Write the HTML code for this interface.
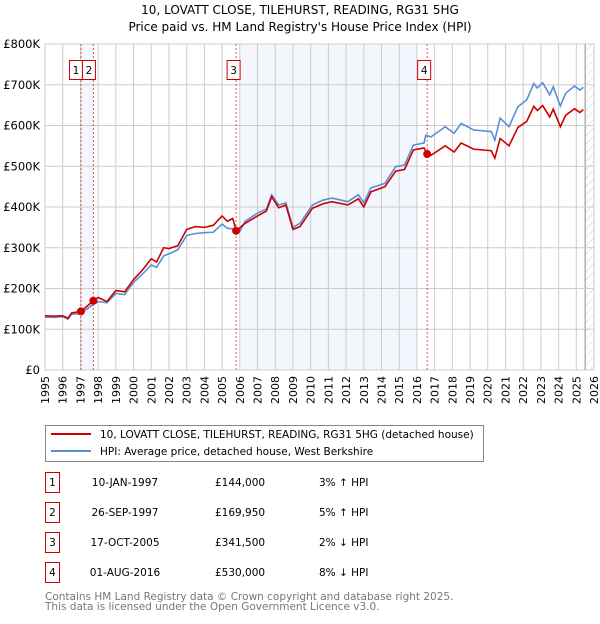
<!DOCTYPE html>
<html><head><meta charset="utf-8"><style>
body{margin:0;background:#fff;font-family:"DejaVu Sans","Liberation Sans",sans-serif;}
svg text{font-family:"DejaVu Sans","Liberation Sans",sans-serif;}
</style></head><body>
<svg id="c" width="600" height="620" xmlns="http://www.w3.org/2000/svg">
<defs><pattern id="hatch" width="6" height="6" patternUnits="userSpaceOnUse" patternTransform="rotate(45)"><line x1="0" y1="0" x2="0" y2="6" stroke="#ccc" stroke-width="1"/></pattern></defs>
<text x="300" y="14" text-anchor="middle" font-size="12">10, LOVATT CLOSE, TILEHURST, READING, RG31 5HG</text>
<text x="300" y="31" text-anchor="middle" font-size="12">Price paid vs. HM Land Registry's House Price Index (HPI)</text>
<g id="plot"></g>
<g>
<rect x="45.5" y="425.5" width="438" height="36" fill="#fff" stroke="#888"/>
<line x1="51" y1="434" x2="91" y2="434" stroke="#cc0000" stroke-width="2"/>
<text x="100" y="438" font-size="10.5">10, LOVATT CLOSE, TILEHURST, READING, RG31 5HG (detached house)</text>
<line x1="51" y1="451" x2="91" y2="451" stroke="#5b8fd4" stroke-width="2"/>
<text x="100" y="455" font-size="10.5">HPI: Average price, detached house, West Berkshire</text>
</g>
<g id="tbl" font-size="10.5"></g>
<text x="45" y="600" font-size="10.5" fill="#777">Contains HM Land Registry data © Crown copyright and database right 2025.</text>
<text x="45" y="610" font-size="10.5" fill="#777">This data is licensed under the Open Government Licence v3.0.</text>
</svg>
<script>
const hpiYears=[1995,1995.5,1996,1996.3,1996.5,1997,1997.7,1998,1998.5,1999,1999.5,2000,2000.5,2001,2001.3,2001.7,2002,2002.5,2003,2003.5,2004,2004.5,2005,2005.3,2005.8,2006,2006.3,2007,2007.5,2007.8,2008.2,2008.6,2009,2009.4,2010.1,2010.7,2011.2,2012.1,2012.7,2013.0,2013.4,2014.2,2014.8,2015.3,2015.8,2016.4,2016.5,2016.8,2017.6,2018.1,2018.5,2019.2,2020.2,2020.4,2020.7,2021.2,2021.7,2022.2,2022.6,2022.8,2023.1,2023.5,2023.7,2024.1,2024.4,2024.9,2025.2,2025.4];
const hpiValues=[130,129,131,125,137,138,160,168,165,188,185,215,235,258,252,280,285,295,330,335,337,338,358,348,345,340,365,385,395,430,405,410,350,360,405,417,422,413,430,410,447,458,499,503,552,557,576,572,597,581,605,589,585,564,618,597,646,663,703,692,705,675,695,648,679,697,687,694];
const paidYears=[1995,1995.5,1996,1996.3,1996.5,1997.03,1997.73,1998,1998.5,1999,1999.5,2000,2000.5,2001,2001.3,2001.7,2002,2002.5,2003,2003.5,2004,2004.5,2005,2005.3,2005.6,2005.8,2006.3,2007,2007.5,2007.8,2008.2,2008.6,2009,2009.4,2010.1,2010.7,2011.2,2012.1,2012.7,2013.0,2013.4,2014.2,2014.8,2015.3,2015.8,2016.4,2016.58,2016.8,2017.6,2018.1,2018.5,2019.2,2020.2,2020.4,2020.7,2021.2,2021.7,2022.2,2022.6,2022.8,2023.1,2023.5,2023.7,2024.1,2024.4,2024.9,2025.2,2025.4];
const paidValues=[133,132,133,127,140,144,170,178,168,195,192,222,245,273,265,300,298,305,345,352,350,355,378,365,372,341.5,360,378,390,425,398,405,345,352,397,408,413,405,420,400,437,450,488,492,540,545,530,527,550,535,557,542,538,520,568,550,595,610,647,637,649,621,640,597,625,641,632,639];
const saleYears=[1997.03,1997.73,2005.79,2016.58];
const salePrices=[144,169.95,341.5,530];
const saleLabels=["1","2","3","4"];
const saleDates=["10-JAN-1997","26-SEP-1997","17-OCT-2005","01-AUG-2016"];
const salePriceText=["£144,000","£169,950","£341,500","£530,000"];
const saleHpiText=["3% ↑ HPI","5% ↑ HPI","2% ↓ HPI","8% ↓ HPI"];
const yTicks=[0,100,200,300,400,500,600,700,800];
const yTickLabels=["£0","£100K","£200K","£300K","£400K","£500K","£600K","£700K","£800K"];
const xTicks=[1995,1996,1997,1998,1999,2000,2001,2002,2003,2004,2005,2006,2007,2008,2009,2010,2011,2012,2013,2014,2015,2016,2017,2018,2019,2020,2021,2022,2023,2024,2025,2026];

const X0=45,X1=594,Y0=370,Y1=44;
const xs=y=>X0+(y-1995)/(2026-1995)*(X1-X0);
const ys=v=>Y0-v/800*(Y0-Y1);
const NS="http://www.w3.org/2000/svg";
const plot=document.getElementById('plot');
function mk(tag,attrs,parent){const e=document.createElementNS(NS,tag);for(const k in attrs)e.setAttribute(k,attrs[k]);(parent||plot).appendChild(e);return e;}

mk('rect',{x:X0,y:Y1,width:X1-X0,height:Y0-Y1,fill:'#fff'});
let sh=mk('rect',{x:xs(saleYears[0]),y:Y1,width:xs(saleYears[1])-xs(saleYears[0]),height:Y0-Y1,fill:'#f3f6fd'});


let sh2=mk('rect',{x:xs(2006),y:Y1,width:xs(2016)-xs(2006),height:Y0-Y1,fill:'#f3f6fd'});


let ht=mk('rect',{x:xs(2025.5),y:Y1,width:X1-xs(2025.5),height:Y0-Y1,fill:'url(#hatch)'});


mk('line',{x1:xs(2025.5),y1:Y1,x2:xs(2025.5),y2:Y0,stroke:'#888','stroke-width':1});

xTicks.forEach(t=>{
  mk('line',{x1:xs(t),y1:Y1,x2:xs(t),y2:Y0,stroke:'#ccc','stroke-width':1});
  const tx=mk('text',{x:0,y:0,'font-size':11,'text-anchor':'end',transform:`translate(${xs(t)+4},${Y0+6}) rotate(-90)`});
  tx.textContent=t;
  
  
});
yTicks.forEach((t,i)=>{
  mk('line',{x1:X0,y1:ys(t),x2:X1,y2:ys(t),stroke:'#ccc','stroke-width':1});
  const tx=mk('text',{x:X0-5,y:ys(t)+4,'font-size':11.5,'text-anchor':'end'});
  tx.textContent=yTickLabels[i];
  
  
});
mk('rect',{x:X0,y:Y1,width:X1-X0,height:Y0-Y1,fill:'none',stroke:'#ccc'});

saleYears.forEach((y,i)=>{
  const l=mk('line',{x1:xs(y),y1:Y1,x2:xs(y),y2:Y0,stroke:'#e05050','stroke-width':1,'stroke-dasharray':'2,2'});
  
  
});

const hp=mk('polyline',{points:hpiYears.map((y,i)=>xs(y)+','+ys(hpiValues[i])).join(' '),fill:'none',stroke:'#5b8fd4','stroke-width':1.6});


const pp=mk('polyline',{points:paidYears.map((y,i)=>xs(y)+','+ys(paidValues[i])).join(' '),fill:'none',stroke:'#cc0000','stroke-width':1.6});



const boxOffset=[-12,-11.4,-9.5,-10];
saleYears.forEach((y,i)=>{
  const c=mk('circle',{cx:xs(y),cy:ys(salePrices[i]),r:4,fill:'#cc0000'});
  
  
  const bx=xs(y)+boxOffset[i];
  const g=mk('g',{});
  
  
  mk('rect',{x:bx+0.5,y:60.5,width:13,height:19,fill:'#fff',stroke:'#cc0000'},g);
  const t=mk('text',{x:bx+7,y:74,'font-size':10.5,'text-anchor':'middle'},g);
  t.textContent=saleLabels[i];
});

const tbl=document.getElementById('tbl');
saleLabels.forEach((s,i)=>{
  const cy=483+i*30;
  const g=mk('g',{},tbl);
  
  
  mk('rect',{x:45.5,y:cy-10.5,width:14,height:20,fill:'#fff',stroke:'#cc0000'},g);
  let t=mk('text',{x:52.5,y:cy+3,'text-anchor':'middle'},g);t.textContent=s;
  t=mk('text',{x:125,y:cy+3,'text-anchor':'middle'},g);t.textContent=saleDates[i];
  t=mk('text',{x:215,y:cy+3},g);t.textContent=salePriceText[i];
  t=mk('text',{x:319,y:cy+3},g);t.textContent=saleHpiText[i];
});
</script>
</body></html>
